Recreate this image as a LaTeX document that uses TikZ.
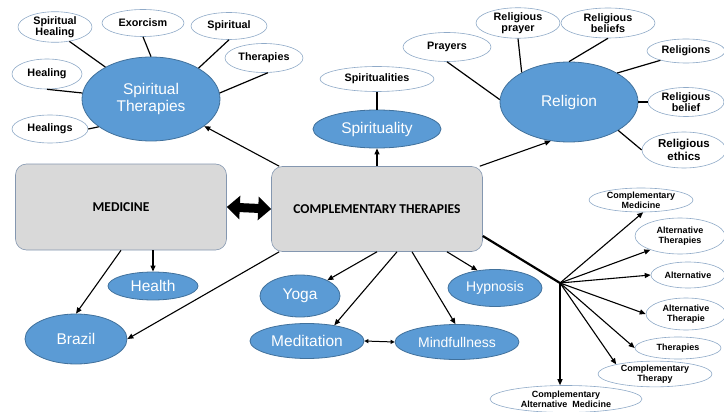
\documentclass[tikz,border=0pt]{standalone}
\usepackage{fontspec}
\setmainfont{Liberation Sans}
\newfontfamily\boxfont{Carlito}
\usetikzlibrary{arrows.meta,shapes.geometric}
\definecolor{ctedge}{RGB}{65,113,156}
\definecolor{ctblue}{RGB}{91,155,213}
\definecolor{ctgray}{RGB}{217,217,217}
\definecolor{ctframe}{RGB}{132,151,176}
\definecolor{ctpale}{RGB}{143,170,200}
\tikzset{
  topic/.style={
    ellipse, draw=ctedge, fill=ctblue, line width=0.8pt, inner sep=0pt,
    text=white, align=center, font=\fontsize{15.5}{16.5}\selectfont
  },
  term/.style={
    ellipse, draw=ctpale, fill=white, line width=0.6pt, inner sep=0pt,
    align=center, font=\bfseries\fontsize{10.8}{11.5}\selectfont
  },
  fanterm/.style={term, font=\bfseries\fontsize{9}{9.8}\selectfont},
  field/.style={
    draw=ctframe, fill=ctgray, line width=0.6pt, rounded corners=11pt,
    font=\boxfont\bfseries\fontsize{13.5}{14}\selectfont
  },
  arr/.style={-{Triangle[length=6pt,width=5pt]}, line width=1.1pt},
  link/.style={line width=1.2pt},
  sz/.style 2 args={minimum width=#1pt, minimum height=#2pt}
}
\begin{document}
\begin{tikzpicture}[x=1pt, y=-1pt]
  \useasboundingbox (0,0) rectangle (724,412);

  % main boxes
  \node[field, minimum width=211pt, minimum height=86pt] (med) at (121,207) {MEDICINE};
  \node[field, minimum width=211pt, minimum height=85pt] (ct) at (377,209) {COMPLEMENTARY THERAPIES};

  % spiritual therapies cluster
  \node[topic, sz={138}{84}] (st) at (151,99) {Spiritual\\Therapies};
  \node[term, sz={74}{30}] (sh) at (55,27) {Spiritual\\Healing};
  \node[term, sz={82}{27}] (ex) at (143,23) {Exorcism};
  \node[term, sz={76}{27}] (sp) at (229,26) {Spiritual};
  \node[term, sz={78}{29}] (th) at (264,58) {Therapies};
  \node[term, sz={70}{30}] (hl) at (47,74) {Healing};
  \node[term, sz={76}{28}] (hs) at (50,129) {Healings};

  % spirituality
  \node[topic, sz={128}{38}] (spy) at (377,129) {Spirituality};
  \node[term, sz={114}{25}] (sps) at (377,79) {Spiritualities};

  % religion cluster
  \node[topic, sz={138}{80}] (rel) at (569,102) {Religion};
  \node[term, sz={88}{29}] (pr) at (447,47) {Prayers};
  \node[term, sz={84}{30}] (rp) at (518,23) {Religious\\prayer};
  \node[term, sz={94}{30}] (rb) at (608,23) {Religious\\beliefs};
  \node[term, sz={78}{24}] (rs) at (686,51) {Religions};
  \node[term, sz={76}{29}] (rbl) at (686,102) {Religious\\belief};
  \node[term, sz={84}{36}, font=\bfseries\fontsize{11.5}{13}\selectfont] (re) at (684,150) {Religious\\ethics};

  % lower blue nodes
  \node[topic, sz={90}{28}] (hth) at (153,286) {Health};
  \node[topic, sz={102}{50}] (br) at (76,339) {Brazil};
  \node[topic, sz={80}{42}] (yg) at (300,296) {Yoga};
  \node[topic, sz={114}{35}] (md) at (307,341) {Meditation};
  \node[topic, sz={124}{35}, font=\fontsize{14}{15}\selectfont] (mf) at (457,342) {Mindfullness};
  \node[topic, sz={94}{37}, font=\fontsize{14}{15}\selectfont] (hy) at (495,288) {Hypnosis};

  % fan of terms
  \coordinate (fan) at (560,283);
  \node[fanterm, sz={104}{24}] (cm) at (641,200) {Complementary\\Medicine};
  \node[fanterm, sz={90}{36}] (at) at (680,236) {Alternative\\Therapies};
  \node[fanterm, sz={74}{26}] (al) at (688,275) {Alternative};
  \node[fanterm, sz={80}{32}] (ate) at (686,314) {Alternative\\Therapie};
  \node[fanterm, sz={86}{22}] (th2) at (678,348) {Therapies};
  \node[fanterm, sz={114}{22}] (ctp) at (655,374) {Complementary\\Therapy};
  \node[fanterm, sz={152}{27}] (cam) at (566,399) {Complementary\\Alternative~~Medicine};

  % spokes
  \draw[link] (sh.315) -- (st.145);
  \draw[link] (ex.south) -- (st.north);
  \draw[link] (sp.south) -- (st.33);
  \draw[link] (th.285) -- (st.5);
  \draw[link] (hl.south) -- (st.175);
  \draw[link] (hs.east) -- (st.208);
  \draw[link] (sps.south) -- (spy.north);
  \draw[link] (pr.south) -- (rel.178);
  \draw[link] (rp.south) -- (rel.148);
  \draw[link] (rb.south) -- (rel.north);
  \draw[link] (rs.200) -- (rel.31);
  \draw[link] (rbl.west) -- (rel.east);
  \draw[link] (re.west) -- (rel.330);

  % arrows out of the boxes
  \draw[{Triangle[length=13pt,width=23pt]}-{Triangle[length=13pt,width=23pt]}, line width=9pt] (med.east) -- (ct.west);
  \draw[arr] ([xshift=8pt]ct.north west) -- (st.333);
  \draw[arr] (ct.north) -- (spy.south);
  \draw[arr] ([xshift=-3pt]ct.north east) -- (rel.245);
  \draw[arr] (med.south) -- (br.north);
  \draw[arr] (med.south -| hth.north) -- (hth.north);
  \draw[arr] ([xshift=8pt]ct.south west) -- (br.east);
  \draw[arr] (ct.south) -- (yg.30);
  \draw[arr] ([xshift=20pt]ct.south) -- (md.30);
  \draw[arr] ([xshift=35pt]ct.south) -- (mf.95);
  \draw[arr] ([xshift=70pt]ct.south) -- (hy.135);
  \draw[{Triangle[length=4pt,width=4pt]}-{Triangle[length=4pt,width=4pt]}, line width=1pt] (md.east) -- (mf.west);

  % fan
  \draw[line width=2.2pt] ([yshift=-27pt]ct.east) -- (fan);
  \draw[arr] (fan) -- (cm.280);
  \draw[arr] (fan) -- (at.205);
  \draw[arr] (fan) -- (al.west);
  \draw[arr] (fan) -- (ate.west);
  \draw[arr] (fan) -- (th2.west);
  \draw[arr] (fan) -- (ctp.166);
  \draw[arr] (fan) -- (fan |- cam.north);
\end{tikzpicture}
\end{document}
